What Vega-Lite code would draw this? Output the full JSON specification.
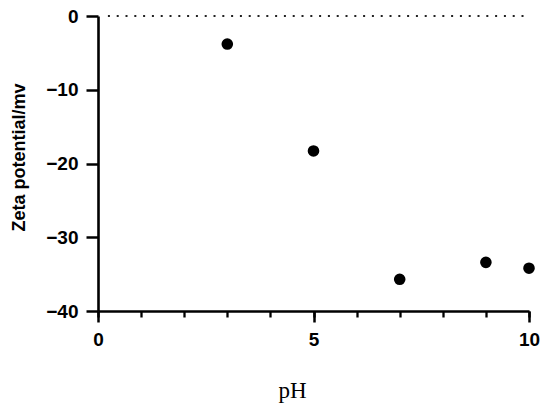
{
  "$schema": "https://vega.github.io/schema/vega-lite/v6.json",
  "width": 431,
  "height": 295,
  "autosize": {"type": "none"},
  "padding": {"left": 98, "top": 16, "right": 21, "bottom": 97},
  "background": "white",
  "config": {
    "view": {"stroke": null},
    "axis": {
      "domainColor": "black",
      "tickColor": "black",
      "labelColor": "black",
      "titleColor": "black",
      "labelFont": "Liberation Sans",
      "labelFontWeight": "bold",
      "labelFontSize": 19,
      "labelFlush": false,
      "grid": false
    }
  },
  "layer": [
    {
      "data": {"values": [{"x0": 0.23, "x1": 9.9, "zeta": 0}]},
      "mark": {"type": "rule", "strokeDash": [2, 6.8], "strokeWidth": 2, "color": "#222222"},
      "encoding": {
        "x": {
          "field": "x0", "type": "quantitative",
          "scale": {"domain": [0, 10], "nice": false},
          "axis": {
            "orient": "bottom", "values": [0, 1, 2, 3, 4, 5, 6, 7, 8, 9, 10],
            "labels": false, "domain": false, "title": null,
            "tickSize": 6, "tickWidth": 2.3
          }
        },
        "x2": {"field": "x1"},
        "y": {"field": "zeta", "type": "quantitative", "scale": {"domain": [-40, 0], "nice": false}}
      }
    },
    {
      "data": {
        "values": [
          {"pH": 3, "zeta": -3.8},
          {"pH": 5, "zeta": -18.3},
          {"pH": 7, "zeta": -35.7},
          {"pH": 9, "zeta": -33.4},
          {"pH": 10, "zeta": -34.2}
        ]
      },
      "mark": {"type": "point", "filled": true, "size": 135, "color": "black", "opacity": 1},
      "encoding": {
        "x": {
          "field": "pH", "type": "quantitative",
          "scale": {"domain": [0, 10], "nice": false},
          "axis": {
            "orient": "bottom", "values": [0, 5, 10],
            "tickSize": 11, "tickWidth": 2.5, "domainWidth": 2.6,
            "labelPadding": 8,
            "title": "pH",
            "titleFont": "Liberation Serif", "titleFontWeight": "normal", "titleFontSize": 23,
            "titleX": 194, "titleY": 86, "titleBaseline": "alphabetic", "titleAnchor": null
          }
        },
        "y": {
          "field": "zeta", "type": "quantitative",
          "scale": {"domain": [-40, 0], "nice": false},
          "axis": {
            "values": [-40, -30, -20, -10, 0],
            "tickSize": 12, "tickWidth": 2.5, "domainWidth": 2.6,
            "labelPadding": 8,
            "title": "Zeta potential/mv",
            "titleFont": "Liberation Sans", "titleFontWeight": "bold", "titleFontSize": 18,
            "titleAngle": -90, "titleBaseline": "top", "titleAlign": "center",
            "titleX": -88, "titleY": 141
          }
        }
      }
    }
  ],
  "resolve": {"axis": {"x": "independent"}}
}
